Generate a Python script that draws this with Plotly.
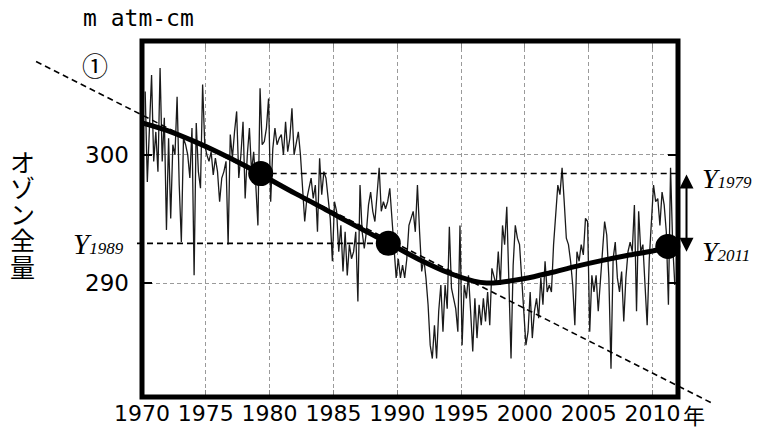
import plotly.graph_objects as go

# ---------------- data ----------------
# ozone total (m atm-cm), sampled every 2 months from 1970.25
oz_1970s = [304.95, 297.9, 302.1, 306.25, 299.5, 301.8, 298.7, 306.8, 299.5, 302.9,
            294.15, 301.3, 295.05, 300.8, 300.0, 304.55, 297.65, 293.2, 301.3, 300.8,
            300.0, 298.2, 302.1, 290.6, 302.5, 298.7, 297.4, 305.5, 300.8, 300.0,
            299.5, 300.25, 298.45, 299.75, 298.7, 296.35, 298.2, 298.7, 299.5, 293.0,
            301.6]
oz_late70s = [299.75, 301.8, 303.4, 298.2, 300.0, 302.6, 296.6, 300.0, 302.1, 298.7,
              300.25, 297.65, 294.5, 305.2, 300.8, 301.05, 302.1, 304.4, 296.35, 300.5,
              302.1, 300.8, 301.3, 301.6, 300.0, 302.6, 300.25, 301.3, 303.65, 300.0,
              301.05, 301.8, 300.0, 297.65, 294.8, 296.6, 297.4, 298.2, 296.6, 297.65,
              294.0]
oz_80s = [299.75, 296.9, 298.7, 298.2, 296.35, 295.05, 291.7, 296.35, 295.6, 292.45,
          294.5, 290.9, 294.0, 290.6, 293.0, 291.9, 292.45, 294.0, 288.55, 297.65,
          294.0, 292.7, 294.0, 296.1, 297.1, 295.6, 294.8, 296.6, 299.0, 295.6,
          296.35, 295.8, 296.35, 297.4, 295.05, 293.5, 290.4, 291.9, 290.4, 291.4,
          290.4, 291.9, 294.5]
oz_90s = [295.05, 295.6, 294.0, 297.65, 294.0, 290.9, 291.9, 290.4, 288.3, 285.15,
          284.1, 286.7, 284.1, 287.8, 289.85, 286.2, 289.85, 288.0, 294.4, 289.6,
          288.8, 288.0, 286.2, 294.5, 285.15, 289.85, 288.8, 290.6, 287.8, 284.65,
          288.8, 285.7, 288.3, 286.7, 288.8, 287.0, 289.3, 286.7, 291.15, 290.4,
          289.85, 292.45]
oz_2000s = [289.85, 294.5, 293.0, 295.95, 290.4, 284.1, 291.4, 294.5, 293.5, 293.0,
            290.4, 287.8, 285.15, 286.2, 289.3, 285.7, 287.8, 288.8, 287.25, 290.4,
            288.3, 291.7, 289.3, 289.85, 289.3, 293.0, 295.6, 297.65, 296.9, 299.0,
            296.35, 293.5, 293.0, 291.7, 289.85, 286.7, 292.45, 291.7, 293.0, 292.2,
            295.05, 294.8]
oz_late2000s = [286.2, 290.6, 289.3, 290.6, 287.8, 290.4, 293.0, 294.8, 293.75, 290.4,
                283.3, 291.9, 293.2, 290.4, 289.3, 290.9, 287.0, 290.4, 292.45, 293.2,
                292.45, 296.1, 287.8, 295.6, 292.45, 293.0, 289.85, 286.7, 291.9, 295.05,
                297.65, 296.35, 296.6, 294.5, 297.1, 296.1, 294.0, 288.3, 299.0, 293.0,
                289.85]
ozone = oz_1970s + oz_late70s + oz_80s + oz_90s + oz_2000s + oz_late2000s
START_YEAR = 1970.25
STEP = 1 / 6
years = [START_YEAR + i * STEP for i in range(len(ozone))]

trend_years = [1970, 1972, 1974, 1976, 1978, 1980, 1982, 1984, 1986, 1988, 1990,
               1992, 1994, 1996, 1997, 1998, 2000, 2002, 2004, 2006, 2008, 2010, 2011]
trend_vals = [302.5, 301.9, 301.1, 300.2, 299.2, 298.1, 297.0, 295.95, 294.85, 293.8,
              292.75, 291.7, 290.8, 290.15, 290.0, 290.05, 290.35, 290.8, 291.3,
              291.75, 292.15, 292.5, 292.75]

key_years = [1979.3, 1989.3, 2011.2]
key_vals = [298.55, 293.1, 292.85]
key_names = ["1979", "1989", "2011"]

line1_years = [1961.7, 2014.8]
line1_vals = [307.3, 280.55]

x_ticks = [1970, 1975, 1980, 1985, 1990, 1995, 2000, 2005, 2010]
y_ticks = [290, 300]
unit_label = "m atm-cm"
y_title = "オゾン全量"
x_title = "年"

X_RANGE = [1970, 2012]
Y_RANGE = [281.1, 308.9]

# ---------------- layout geometry ----------------
W, H = 760, 434
ML, MR, MT, MB = 142, 82, 41, 37
PW, PH = W - ML - MR, H - MT - MB


def dx(x):
    return (x - X_RANGE[0]) / (X_RANGE[1] - X_RANGE[0])


def dy(y):
    return (y - Y_RANGE[0]) / (Y_RANGE[1] - Y_RANGE[0])


def px_x(p):
    return (p - ML) / PW


def px_y(p):
    return (H - MB - p) / PH


fig = go.Figure()

fig.add_trace(go.Scatter(x=years, y=ozone, mode="lines",
                         line=dict(color="#1a1a1a", width=1.3), hoverinfo="skip"))
fig.add_trace(go.Scatter(x=trend_years, y=trend_vals, mode="lines",
                         line=dict(color="black", width=5, shape="spline"), hoverinfo="skip"))
fig.add_trace(go.Scatter(x=key_years, y=key_vals, mode="markers", cliponaxis=False,
                         marker=dict(color="black", size=25), hoverinfo="skip"))

dash_black = "6px,4px"
shapes = [
    # line (1)
    dict(type="line", xref="paper", yref="paper",
         x0=dx(line1_years[0]), y0=dy(line1_vals[0]),
         x1=dx(line1_years[1]), y1=dy(line1_vals[1]),
         line=dict(color="black", width=1.6, dash=dash_black)),
    # Y1979 level
    dict(type="line", xref="x", yref="y", x0=key_years[0], x1=X_RANGE[1],
         y0=key_vals[0], y1=key_vals[0],
         line=dict(color="black", width=1.6, dash=dash_black)),
    # Y1989 level
    dict(type="line", xref="paper", yref="y", x0=px_x(137), x1=dx(key_years[1]),
         y0=key_vals[1], y1=key_vals[1],
         line=dict(color="black", width=1.6, dash=dash_black)),
    # frame
    dict(type="rect", xref="paper", yref="paper", x0=0, x1=1, y0=0, y1=1,
         line=dict(color="black", width=5)),
]

sub_style = "font-size:17px"
annotations = [
    dict(text=unit_label, xref="paper", yref="paper", x=px_x(138), y=px_y(18),
         xanchor="center", yanchor="middle",
         showarrow=False, font=dict(family="DejaVu Sans Mono", size=23, color="black")),
    dict(text="①", xref="paper", yref="paper", x=px_x(95), y=px_y(64),
         xanchor="center", yanchor="middle",
         showarrow=False, font=dict(family="Noto Sans CJK JP", size=26, color="black")),
    dict(text=x_title, xref="paper", yref="paper", x=px_x(694), y=px_y(414),
         xanchor="center", yanchor="middle",
         showarrow=False, font=dict(family="Noto Sans CJK JP", size=22, color="black")),
    dict(text=f"<i>Y</i><span style='{sub_style}'><i>{key_names[0]}</i></span>",
         xref="paper", yref="y", x=px_x(700), y=key_vals[0], yshift=-5,
         xanchor="left", yanchor="middle", showarrow=False,
         font=dict(family="Liberation Serif", size=28, color="black")),
    dict(text=f"<i>Y</i><span style='{sub_style}'><i>{key_names[2]}</i></span>",
         xref="paper", yref="y", x=px_x(700), y=key_vals[2], yshift=-5,
         xanchor="left", yanchor="middle", showarrow=False,
         font=dict(family="Liberation Serif", size=28, color="black")),
    dict(text=f"<i>Y</i><span style='{sub_style}'><i>{key_names[1]}</i></span>",
         xref="paper", yref="y", x=px_x(126), y=key_vals[1], yshift=-1,
         xanchor="right", yanchor="middle", showarrow=False,
         font=dict(family="Liberation Serif", size=29, color="black")),
    # double arrow between Y1979 and Y2011
    dict(text="", xref="paper", yref="y", x=px_x(686.5), y=292.45,
         axref="pixel", ax=0, ayref="y", ay=298.6,
         showarrow=True, arrowhead=2, startarrowhead=2, arrowside="end+start",
         arrowwidth=2, arrowsize=1.4, startarrowsize=1.4, arrowcolor="black"),
]
for k, ch in enumerate(y_title):
    annotations.append(dict(text=ch, xref="paper", yref="paper", x=px_x(22),
                            y=px_y(160.5 + 26.3 * k), xanchor="center", yanchor="middle",
                            showarrow=False,
                            font=dict(family="Noto Sans CJK JP", size=25, color="black")))

grid_dash = "4px,3px"
fig.update_layout(
    width=W, height=H, margin=dict(l=ML, r=MR, t=MT, b=MB, autoexpand=False),
    paper_bgcolor="white", plot_bgcolor="white", showlegend=False,
    shapes=shapes, annotations=annotations,
    xaxis=dict(range=X_RANGE, tickmode="array", tickvals=x_ticks,
               ticktext=[str(t) for t in x_ticks], automargin=False,
               ticks="inside", ticklen=7, tickwidth=1, tickcolor="#888",
               mirror="ticks", showline=False, zeroline=False,
               showgrid=True, gridcolor="#9a9a9a", gridwidth=1, griddash=grid_dash,
               ticklabelstandoff=1,
               tickfont=dict(family="DejaVu Sans", size=22, color="black")),
    yaxis=dict(range=Y_RANGE, tickmode="array", tickvals=y_ticks, automargin=False,
               ticks="inside", ticklen=10, tickwidth=1.5, tickcolor="black",
               mirror="ticks", showline=False, zeroline=False,
               showgrid=True, gridcolor="#9a9a9a", gridwidth=1, griddash=grid_dash,
               ticklabelstandoff=12,
               tickfont=dict(family="DejaVu Sans", size=23, color="black")),
)

fig.write_html("out.html", config={"displayModeBar": False},
               post_script="document.body.style.margin='0';")
